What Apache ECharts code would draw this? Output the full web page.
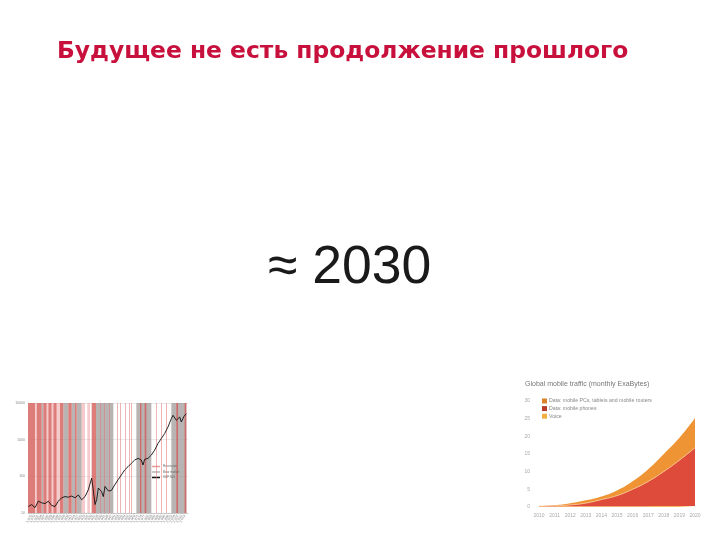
<!DOCTYPE html>
<html><head><meta charset="utf-8">
<script src="https://cdn.jsdelivr.net/npm/echarts@6/dist/echarts.min.js"></script>
<style>html,body{margin:0;padding:0;background:#fff}#c{width:720px;height:540px}</style>
</head><body><div id="c"></div>
<script>
// ---- slide texts ----
const slideTitle = 'Будущее не есть продолжение прошлого';
const bigLabel = '≈ 2030';

// ---- left chart: long-run stock index (log scale) ----
const idxYears  = [1872.3,1875.3,1878.3,1881.3,1884.3,1887.3,1890.3,1893.3,1896.3,1899.3,1902.3,1905.3,1908.3,1911.3,1914.3,1917.3,1920.3,1923.3,1926.3,1928.3,1929.3,1930.5,1932.3,1933.8,1935.3,1938.3,1939.8,1941.3,1944.3,1947,1950,1953,1956,1959,1962,1965,1968,1971,1974,1975.5,1977,1980,1983,1986,1989,1992,1995,1998,2001,2002.5,2005.5,2008.5,2010,2012.4,2014.5];
const idxValues = [15,17,14,21,19,18,21,16,15,21,26,28,27,29,26,31,23,28,43,70,89,48,17,23,48,38,28,53,40,41,58,80,109,149,183,226,278,309,278,204,291,309,380,520,789,1078,1472,2222,3757,4616,3375,4148,3037,4336,5128];
const logTicks = [10, 100, 1000, 10000];
const redBands  = [[1872,1878.3],[1879.8,1884.3],[1885.8,1888.8],[1890.3,1893.3],[1894.8,1897.8],[1900.8,1903.8],[1908.3,1911.3],[1914.3,1915.8],[1929.3,1933.2],[1972.8,1974],[1977,1978.5],[2005.5,2007],[2013,2014.5]];
const grayBands = [[1884.3,1885.8],[1903.8,1908.3],[1911.3,1914.3],[1915.8,1920.3],[1933.2,1948.8],[1969.5,1983],[2001,2014.5]];
const pinkBands = [[1878.3,1879.8],[1888.8,1890.3],[1893.3,1894.8],[1897.8,1900.8],[1920.3,1923.3],[1925.4,1927.8]];
const thinLines = [1936.8,1940.4,1944.9,1952.1,1955.3,1959.3,1962.9,1965.3,1987.5,1992,1996.5];
const leftLegend = ['Recession', 'Bear market', 'S&P 500'];

// ---- right chart: global mobile traffic ----
const trafficTitle = 'Global mobile traffic (monthly ExaBytes)';
const trafficYears = ['2010','2011','2012','2013','2014','2015','2016','2017','2018','2019','2020'];
const voice  = [0.15,0.17,0.18,0.2,0.2,0.22,0.22,0.24,0.25,0.26,0.27];
const phones = [0.05,0.15,0.4,0.9,1.9,3.0,4.8,7.0,9.8,13.0,16.5];
const pcs    = [0.05,0.18,0.5,0.8,0.9,1.48,2.28,3.46,4.95,6.34,8.43];
const trafficLegend = ['Data: mobile PCs, tablets and mobile routers', 'Data: mobile phones', 'Voice'];

const band = arr => arr.map(b => [{xAxis: b[0]}, {xAxis: b[1]}]);

const chart = echarts.init(document.getElementById('c'), null, {renderer: 'canvas'});
chart.setOption({
  animation: false,
  backgroundColor: '#fff',
  title: [
    { text: slideTitle, left: 57, top: 40, padding: 0,
      textStyle: { fontFamily: 'DejaVu Sans', fontWeight: 'bold', fontSize: 23.4, color: '#C8103C' } },
    { text: bigLabel, left: 268, top: 241, padding: 0,
      textStyle: { fontFamily: 'Liberation Sans', fontWeight: 'normal', fontSize: 53.5, color: '#1a1a1a' } },
    { text: trafficTitle, left: 525, top: 381, padding: 0,
      textStyle: { fontFamily: 'Liberation Sans', fontWeight: 'normal', fontSize: 7, color: '#777' } }
  ],
  legend: [
    { data: leftLegend, left: 152, top: 465, orient: 'vertical', itemGap: 2.5,
      itemWidth: 8, itemHeight: 1.5, icon: 'rect', padding: 0,
      textStyle: { fontSize: 3, color: '#666', padding: [0,0,0,-2] } },
    { data: trafficLegend, left: 542, top: 398.5, orient: 'vertical', itemGap: 2.6,
      itemWidth: 5, itemHeight: 5, icon: 'rect', padding: 0,
      textStyle: { fontSize: 5.2, color: '#888', fontFamily: 'Liberation Sans', padding: [0,0,0,-3] } }
  ],
  grid: [
    { left: 28, top: 403, width: 160, height: 110 },
    { left: 539, top: 401, width: 156, height: 106 }
  ],
  xAxis: [
    { gridIndex: 0, type: 'value', min: 1872, max: 2016, interval: 3,
      axisLine: { show: true, lineStyle: { color: '#aaa', width: 0.5 } },
      axisTick: { show: true, length: 1, lineStyle: { color: '#aaa', width: 0.5 } },
      splitLine: { show: false },
      axisLabel: { fontSize: 3.5, color: '#888', rotate: 60, margin: 2, hideOverlap: false } },
    { gridIndex: 1, type: 'category', data: trafficYears, boundaryGap: false,
      axisLine: { show: false }, axisTick: { show: false },
      axisLabel: { fontSize: 5, color: '#aaa', margin: 6, fontFamily: 'Liberation Sans' } }
  ],
  yAxis: [
    { gridIndex: 0, type: 'log', logBase: 10, min: 10, max: 10000,
      axisLine: { show: false }, axisTick: { show: false },
      splitLine: { show: true, lineStyle: { color: '#ddd', width: 0.6 } },
      axisLabel: { fontSize: 3.5, color: '#888', margin: 3,
        formatter: v => logTicks.includes(Math.round(v)) ? String(Math.round(v)) : '' } },
    { gridIndex: 1, type: 'value', min: 0, max: 30, interval: 5,
      axisLine: { show: false }, axisTick: { show: false }, splitLine: { show: false },
      axisLabel: { fontSize: 5, color: '#aaa', margin: 9, fontFamily: 'Liberation Sans' } }
  ],
  series: [
    { name: 'Bear market', type: 'line', xAxisIndex: 0, yAxisIndex: 0, data: [],
      color: '#b9b4b4', z: 1, silent: true,
      markArea: { silent: true, itemStyle: { color: 'rgba(150,145,145,0.68)' }, data: band(grayBands) } },
    { name: 'Recession', type: 'line', xAxisIndex: 0, yAxisIndex: 0, data: [],
      color: '#e89a9a', z: 2, silent: true,
      markArea: { silent: true, itemStyle: { color: 'rgba(212,88,84,0.78)' }, data: band(redBands) } },
    { name: 'pink', type: 'line', xAxisIndex: 0, yAxisIndex: 0, data: [], z: 2, silent: true,
      markArea: { silent: true, itemStyle: { color: 'rgba(232,140,140,0.45)' }, data: band(pinkBands) },
      markLine: { silent: true, symbol: 'none', label: { show: false },
        lineStyle: { type: 'solid', color: 'rgba(225,120,120,0.55)', width: 1 },
        data: thinLines.map(x => ({ xAxis: x })) } },
    { name: 'S&P 500', type: 'line', xAxisIndex: 0, yAxisIndex: 0, z: 5,
      data: idxYears.map((y, i) => [y, idxValues[i]]),
      showSymbol: false, color: '#111', lineStyle: { color: '#111', width: 0.9 } },

    { name: 'Voice', type: 'line', xAxisIndex: 1, yAxisIndex: 1, stack: 't', smooth: true,
      data: voice, showSymbol: false, color: '#F0B040',
      lineStyle: { width: 0 }, areaStyle: { color: '#F7B862', opacity: 1 } },
    { name: 'Data: mobile phones', type: 'line', xAxisIndex: 1, yAxisIndex: 1, stack: 't', smooth: true,
      data: phones, showSymbol: false, color: '#B83B2B',
      lineStyle: { width: 1, color: '#F6BE8A' }, areaStyle: { color: '#DE4B3A', opacity: 1 } },
    { name: 'Data: mobile PCs, tablets and mobile routers', type: 'line', xAxisIndex: 1, yAxisIndex: 1,
      stack: 't', smooth: true, data: pcs, showSymbol: false, color: '#D9822B',
      lineStyle: { width: 0 }, areaStyle: { color: '#EF9434', opacity: 1 } },
    { name: 'overlay', type: 'line', xAxisIndex: 1, yAxisIndex: 1, data: [], z: 10, silent: true,
      markArea: { silent: true, itemStyle: { color: 'rgba(255,255,255,0.55)' },
        data: [[{ xAxis: '2010' }, { xAxis: '2014' }]] } }
  ]
});
</script></body></html>
